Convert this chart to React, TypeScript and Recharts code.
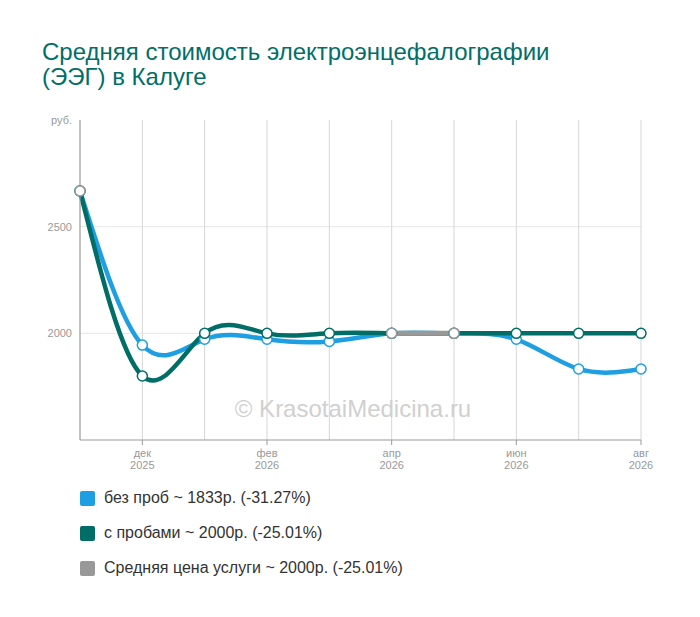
import React from "react"
import { LineChart, Line, XAxis, YAxis, CartesianGrid } from "recharts"

const months = ["ноя", "дек", "янв", "фев", "мар", "апр", "май", "июн", "июл", "авг"]
const years = ["2025", "2025", "2026", "2026", "2026", "2026", "2026", "2026", "2026", "2026"]
const labeled = [false, true, false, true, false, true, false, true, false, true]

const withoutTests = [2667, 1945, 1972, 1972, 1962, 2000, 2000, 1972, 1833, 1833]
const withTests = [2667, 1800, 2000, 2000, 2000, 2000, 2000, 2000, 2000, 2000]
const average = [2667, null, null, null, null, 2000, 2000, null, null, null]

const yTicks = [1500, 2000, 2500, 3000]

const BLUE = "#1e9fe2"
const GREEN = "#006e66"
const GREY = "#999999"

const data = months.map((m, i) => ({
  key: `${m}-${years[i]}`,
  idx: i,
  blue: withoutTests[i],
  green: withTests[i],
  grey: average[i],
}))

const legend = [
  { color: BLUE, text: "без проб ~ 1833р. (-31.27%)" },
  { color: GREEN, text: "с пробами ~ 2000р. (-25.01%)" },
  { color: GREY, text: "Средняя цена услуги ~ 2000р. (-25.01%)" },
]

const XTick = (props: any) => {
  const { x, y, payload } = props
  const i = payload.index
  if (!labeled[i]) return null
  return (
    <g>
      <line x1={x} x2={x} y1={y - 8} y2={y - 3} stroke="#999" />
      <text x={x} y={y + 9} textAnchor="middle" fill="#999" fontSize={11} fontFamily="Arial, 'Liberation Sans', sans-serif">
        {months[i]}
      </text>
      <text x={x} y={y + 21} textAnchor="middle" fill="#999" fontSize={11} fontFamily="Arial, 'Liberation Sans', sans-serif">
        {years[i]}
      </text>
    </g>
  )
}

const YTick = (props: any) => {
  const { x, y, payload } = props
  const v = payload.value
  if (v === 1500) return null
  return (
    <text x={x} y={y + 4} textAnchor="end" fill="#999" fontSize={11} fontFamily="Arial, 'Liberation Sans', sans-serif">
      {v === 3000 ? "руб." : v}
    </text>
  )
}

const dot = (color: string) => ({ r: 5, fill: "#fff", stroke: color, strokeWidth: 1.5 })

export default function App() {
  const font = "Arial, 'Liberation Sans', sans-serif"
  return (
    <div style={{ position: "absolute", left: 0, top: 0, width: 700, height: 617, background: "#fff", fontFamily: font }}>
      <div
        style={{
          position: "absolute",
          left: 42,
          top: 39,
          fontSize: 24,
          lineHeight: "25px",
          color: "#006f67",
        }}
      >
        Средняя стоимость электроэнцефалографии
        <br />
        (ЭЭГ) в Калуге
      </div>

      <div style={{ position: "absolute", left: 0, top: 0 }}>
        <LineChart width={700} height={617} data={data} margin={{ top: 120, right: 59, bottom: 137, left: 20 }}>
          <CartesianGrid stroke="#e6e6e6" horizontalValues={[2000, 2500]} vertical={false} />
          <CartesianGrid stroke="#d6d6d6" horizontal={false} />
          <XAxis
            dataKey="key"
            interval={0}
            padding={{ left: 0, right: 0 }}
            axisLine={{ stroke: "#999" }}
            tickLine={false}
            tick={<XTick />}
            height={40}
          />
          <YAxis
            domain={[1500, 3000]}
            ticks={yTicks}
            interval={0}
            width={60}
            axisLine={{ stroke: "#999" }}
            tickLine={false}
            tick={<YTick />}
          />
          <Line
            dataKey="blue"
            type="natural"
            stroke={BLUE}
            strokeWidth={4.5}
            dot={dot(BLUE)}
            activeDot={false}
            isAnimationActive={false}
          />
          <Line
            dataKey="green"
            type="natural"
            stroke={GREEN}
            strokeWidth={4.5}
            dot={dot(GREEN)}
            activeDot={false}
            isAnimationActive={false}
          />
          <Line
            dataKey="grey"
            type="natural"
            stroke={GREY}
            strokeWidth={5}
            dot={dot(GREY)}
            activeDot={false}
            isAnimationActive={false}
          />
        </LineChart>
      </div>

      <div
        style={{
          position: "absolute",
          left: 0,
          width: 706,
          top: 395,
          textAlign: "center",
          fontSize: 24,
          color: "#d0d0d0",
          pointerEvents: "none",
        }}
      >
        © KrasotaiMedicina.ru
      </div>

      {legend.map((item, i) => (
        <div
          key={item.text}
          style={{
            position: "absolute",
            left: 80,
            top: 489 + i * 35,
            height: 18,
            display: "flex",
            alignItems: "center",
            fontSize: 16,
            color: "#333",
          }}
        >
          <span
            style={{
              display: "inline-block",
              width: 15,
              height: 15,
              borderRadius: 2,
              background: item.color,
              marginRight: 9,
            }}
          />
          {item.text}
        </div>
      ))}
    </div>
  )
}
